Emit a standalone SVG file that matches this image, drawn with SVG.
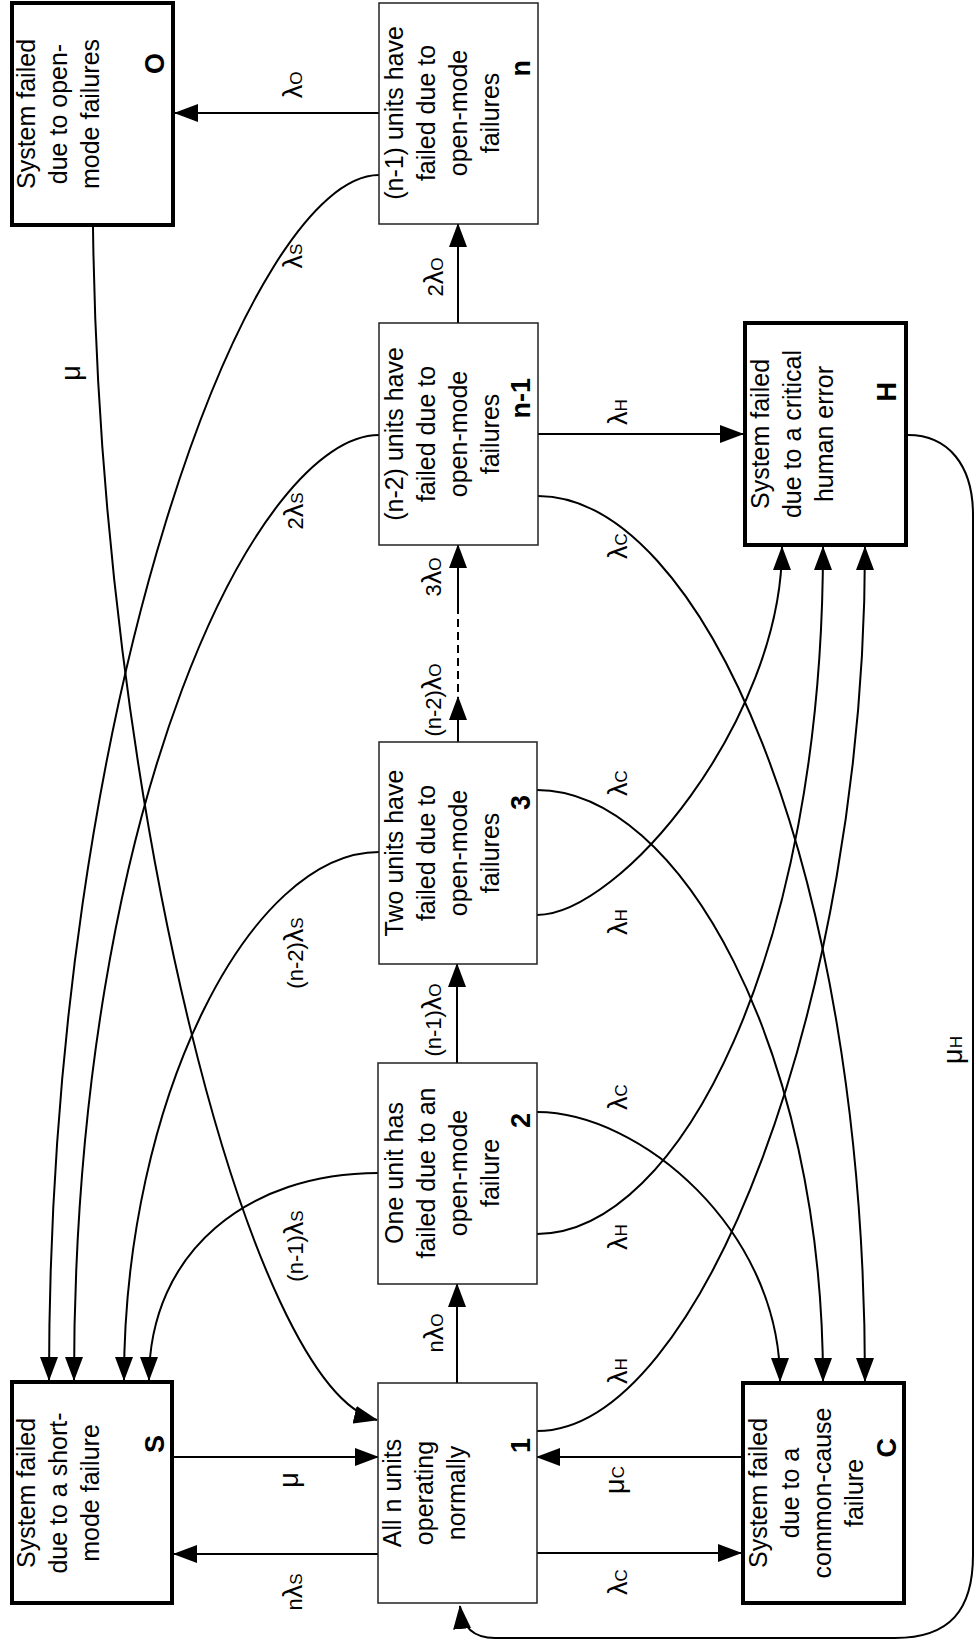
<svg xmlns="http://www.w3.org/2000/svg" width="976" height="1644" viewBox="0 0 976 1644">
<defs>
<style>
.box{fill:#fff;stroke:#222;stroke-width:1.5}
.fbox{fill:#fff;stroke:#000;stroke-width:4}
text{font-family:"Liberation Sans",Arial,sans-serif;fill:#000}
.t{font-size:25px;text-anchor:middle}
.b{font-size:27px;font-weight:bold;text-anchor:end}
.l{font-size:22px;text-anchor:middle}
.g{font-size:27px}
.s{font-size:17px}
.e{fill:none;stroke:#000;stroke-width:2}
.a{marker-end:url(#ah)}
.d{stroke-dasharray:8,5}
</style>
<marker id="ah" markerUnits="userSpaceOnUse" markerWidth="24" markerHeight="18" refX="23" refY="9" orient="auto" viewBox="0 0 24 18">
<path d="M0,0 L24,9 L0,18 z" fill="#000"/>
</marker>
</defs>
<rect width="976" height="1644" fill="#fff"/>

<g id="connectors">
<path class="e a" d="M172,1457 L378,1457"/>
<path class="e a" d="M378,1554 L174,1554"/>
<path class="e a" d="M743,1457 L537,1457"/>
<path class="e a" d="M537,1553 L741,1553"/>
<path class="e a" d="M457,1383 L457,1284"/>
<path class="e a" d="M457,1063 L457,964"/>
<path class="e a" d="M458,742 L458,697"/>
<path class="e d" d="M458,692 L458,612"/>
<path class="e a" d="M458,612 L458,545"/>
<path class="e a" d="M458,323 L458,224"/>
<path class="e a" d="M379,113 L175,113"/>
<path class="e a" d="M538,434 L743,434"/>
<path class="e a" d="M379,175 C250,175 49,700 49,1380"/>
<path class="e a" d="M379,435 C260,435 74,800 74,1380"/>
<path class="e a" d="M379,852 C250,852 124,1100 124,1380"/>
<path class="e a" d="M378,1173 C250,1173 149,1250 149,1380"/>
<path class="e a" d="M93,227 C100,800 250,1390 377,1420"/>
<path class="e a" d="M537,1431 C700,1431 865,1000 865,547"/>
<path class="e a" d="M537,1234 C680,1234 823,950 823,547"/>
<path class="e a" d="M537,915 C620,915 782,720 782,547"/>
<path class="e a" d="M537,1112 C640,1112 780,1230 780,1381"/>
<path class="e a" d="M537,790 C680,790 823,1050 823,1381"/>
<path class="e a" d="M538,496 C700,496 865,860 865,1381"/>
<path class="e a" d="M908,435 C948,435 973,465 973,515 L973,1555 C973,1610 950,1638 895,1638 L495,1638 C475,1638 462,1628 460,1606"/>

<g id="edge-labels">
<text class="l" transform="rotate(-90)" x="-85" y="302"><tspan class="g">λ</tspan><tspan class="s">O</tspan></text>
<text class="l" transform="rotate(-90)" x="-256" y="302"><tspan class="g">λ</tspan><tspan class="s">S</tspan></text>
<text class="l" transform="rotate(-90)" x="-277" y="443">2<tspan class="g">λ</tspan><tspan class="s">O</tspan></text>
<text class="l" transform="rotate(-90)" x="-373" y="80"><tspan class="g">μ</tspan></text>
<text class="l" transform="rotate(-90)" x="-511" y="303">2<tspan class="g">λ</tspan><tspan class="s">S</tspan></text>
<text class="l" transform="rotate(-90)" x="-577" y="441">3<tspan class="g">λ</tspan><tspan class="s">O</tspan></text>
<text class="l" transform="rotate(-90)" x="-700" y="441">(n-2)<tspan class="g">λ</tspan><tspan class="s">O</tspan></text>
<text class="l" transform="rotate(-90)" x="-412" y="627"><tspan class="g">λ</tspan><tspan class="s">H</tspan></text>
<text class="l" transform="rotate(-90)" x="-546" y="627"><tspan class="g">λ</tspan><tspan class="s">C</tspan></text>
<text class="l" transform="rotate(-90)" x="-953" y="303">(n-2)<tspan class="g">λ</tspan><tspan class="s">S</tspan></text>
<text class="l" transform="rotate(-90)" x="-783" y="627"><tspan class="g">λ</tspan><tspan class="s">C</tspan></text>
<text class="l" transform="rotate(-90)" x="-922" y="627"><tspan class="g">λ</tspan><tspan class="s">H</tspan></text>
<text class="l" transform="rotate(-90)" x="-1020" y="441">(n-1)<tspan class="g">λ</tspan><tspan class="s">O</tspan></text>
<text class="l" transform="rotate(-90)" x="-1246" y="303">(n-1)<tspan class="g">λ</tspan><tspan class="s">S</tspan></text>
<text class="l" transform="rotate(-90)" x="-1097" y="627"><tspan class="g">λ</tspan><tspan class="s">C</tspan></text>
<text class="l" transform="rotate(-90)" x="-1237" y="627"><tspan class="g">λ</tspan><tspan class="s">H</tspan></text>
<text class="l" transform="rotate(-90)" x="-1371" y="627"><tspan class="g">λ</tspan><tspan class="s">H</tspan></text>
<text class="l" transform="rotate(-90)" x="-1333" y="443">n<tspan class="g">λ</tspan><tspan class="s">O</tspan></text>
<text class="l" transform="rotate(-90)" x="-1480" y="298"><tspan class="g">μ</tspan></text>
<text class="l" transform="rotate(-90)" x="-1592" y="302">n<tspan class="g">λ</tspan><tspan class="s">S</tspan></text>
<text class="l" transform="rotate(-90)" x="-1480" y="624"><tspan class="g">μ</tspan><tspan class="s">C</tspan></text>
<text class="l" transform="rotate(-90)" x="-1582" y="627"><tspan class="g">λ</tspan><tspan class="s">C</tspan></text>
<text class="l" transform="rotate(-90)" x="-1050" y="962"><tspan class="g">μ</tspan><tspan class="s">H</tspan></text>
</g>
</g>

<g id="node-O">
<rect class="fbox" x="12" y="3" width="161" height="222"/>
<text class="t" transform="rotate(-90)"><tspan x="-114" y="35">System failed</tspan><tspan x="-114" y="67">due to open-</tspan><tspan x="-114" y="99">mode failures</tspan></text>
<text class="b" transform="rotate(-90)" x="-53" y="164">O</text>
</g>

<g id="node-S">
<rect class="fbox" x="12" y="1382" width="160" height="221"/>
<text class="t" transform="rotate(-90)"><tspan x="-1493" y="35">System failed</tspan><tspan x="-1493" y="67">due to a short-</tspan><tspan x="-1493" y="99">mode failure</tspan></text>
<text class="b" transform="rotate(-90)" x="-1435" y="164">S</text>
</g>

<g id="node-n">
<rect class="box" x="379" y="3" width="159" height="221"/>
<text class="t" transform="rotate(-90)"><tspan x="-113" y="403">(n-1) units have</tspan><tspan x="-113" y="435">failed due to</tspan><tspan x="-113" y="467">open-mode</tspan><tspan x="-113" y="499">failures</tspan></text>
<text class="b" transform="rotate(-90)" x="-60" y="530">n</text>
</g>

<g id="node-n-1">
<rect class="box" x="379" y="323" width="159" height="222"/>
<text class="t" transform="rotate(-90)"><tspan x="-434" y="403">(n-2) units have</tspan><tspan x="-434" y="435">failed due to</tspan><tspan x="-434" y="467">open-mode</tspan><tspan x="-434" y="499">failures</tspan></text>
<text class="b" transform="rotate(-90)" x="-378" y="530">n-1</text>
</g>

<g id="node-3">
<rect class="box" x="379" y="742" width="158" height="222"/>
<text class="t" transform="rotate(-90)"><tspan x="-853" y="403">Two units have</tspan><tspan x="-853" y="435">failed due to</tspan><tspan x="-853" y="467">open-mode</tspan><tspan x="-853" y="499">failures</tspan></text>
<text class="b" transform="rotate(-90)" x="-795" y="530">3</text>
</g>

<g id="node-2">
<rect class="box" x="378" y="1063" width="159" height="221"/>
<text class="t" transform="rotate(-90)"><tspan x="-1173" y="403">One unit has</tspan><tspan x="-1173" y="435">failed due to an</tspan><tspan x="-1173" y="467">open-mode</tspan><tspan x="-1173" y="499">failure</tspan></text>
<text class="b" transform="rotate(-90)" x="-1113" y="530">2</text>
</g>

<g id="node-1">
<rect class="box" x="378" y="1383" width="159" height="220"/>
<text class="t" transform="rotate(-90)"><tspan x="-1493" y="401">All n units</tspan><tspan x="-1493" y="433">operating</tspan><tspan x="-1493" y="465">normally</tspan></text>
<text class="b" transform="rotate(-90)" x="-1438" y="530">1</text>
</g>

<g id="node-H">
<rect class="fbox" x="745" y="323" width="161" height="222"/>
<text class="t" transform="rotate(-90)"><tspan x="-434" y="769">System failed</tspan><tspan x="-434" y="801">due to a critical</tspan><tspan x="-434" y="833">human error</tspan></text>
<text class="b" transform="rotate(-90)" x="-382" y="896">H</text>
</g>

<g id="node-C">
<rect class="fbox" x="743" y="1383" width="161" height="220"/>
<text class="t" transform="rotate(-90)"><tspan x="-1493" y="767">System failed</tspan><tspan x="-1493" y="799">due to a</tspan><tspan x="-1493" y="831">common-cause</tspan><tspan x="-1493" y="863">failure</tspan></text>
<text class="b" transform="rotate(-90)" x="-1438" y="896">C</text>
</g>
</svg>
